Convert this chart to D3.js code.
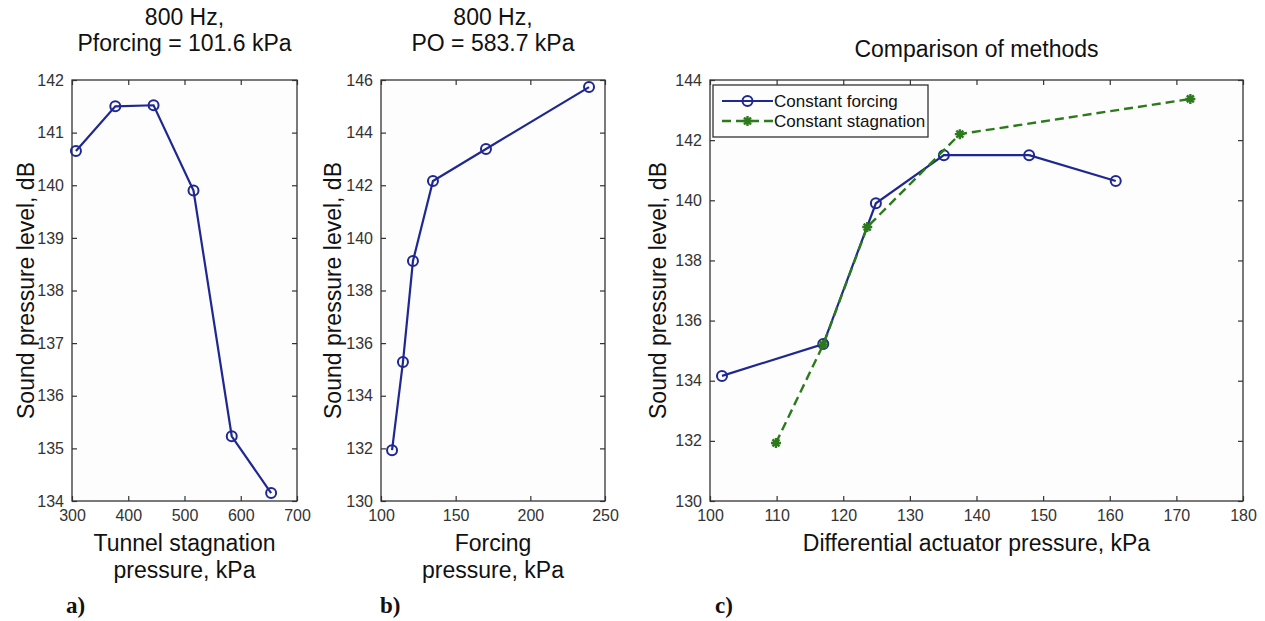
<!DOCTYPE html>
<html>
<head>
<meta charset="utf-8">
<script src="https://cdn.jsdelivr.net/npm/d3@7"></script>
<style>
  body { margin: 0; background: #fff; }
  svg { font-family: "Liberation Sans", Arial, sans-serif; }
  .tick text { font-size: 16px; fill: #333; }
  .domain { display: none; }
  .tick line { stroke: #333; stroke-width: 1.2; }
</style>
</head>
<body>
<svg id="chart" width="1265" height="621"></svg>
<script>
// panel a: constant forcing pressure
const stagPressure = [307, 377, 445, 516, 584, 654];
const splA = [140.65, 141.5, 141.52, 139.9, 135.23, 134.15];

// panel b: constant stagnation pressure
const forcingPressure = [107.4, 114.7, 121.4, 134.8, 170.3, 239.3];
const splB = [131.93, 135.28, 139.12, 142.16, 143.38, 145.73];

// panel c: comparison
const diffForcing = [101.8, 117.0, 124.9, 135.1, 147.9, 160.9];
const splForcing = [134.16, 135.22, 139.9, 141.5, 141.5, 140.64];
const diffStag = [109.9, 117.0, 123.6, 137.5, 172.1];
const splStag = [131.93, 135.2, 139.11, 142.2, 143.37];

const ticksA = { x: [300, 400, 500, 600, 700], y: [134, 135, 136, 137, 138, 139, 140, 141, 142] };
const ticksB = { x: [100, 150, 200, 250], y: [130, 132, 134, 136, 138, 140, 142, 144, 146] };
const ticksC = { x: [100, 110, 120, 130, 140, 150, 160, 170, 180], y: [130, 132, 134, 136, 138, 140, 142, 144] };

const blue = "#1f2891";
const green = "#2c7a1c";

const svg = d3.select("#chart");

function panel(opt) {
  const x = d3.scaleLinear().domain(opt.xd).range([opt.left, opt.right]);
  const y = d3.scaleLinear().domain(opt.yd).range([opt.bottom, opt.top]);
  const g = svg.append("g");

  g.append("rect")
    .attr("x", opt.left).attr("y", opt.top)
    .attr("width", opt.right - opt.left).attr("height", opt.bottom - opt.top)
    .attr("fill", "#fdfdfd").attr("stroke", "#333").attr("stroke-width", 1.3);

  g.append("g").attr("transform", `translate(0,${opt.bottom})`)
    .call(d3.axisBottom(x).tickValues(opt.ticks.x).tickSize(-5).tickPadding(9).tickFormat(d3.format("d")));
  g.append("g").attr("transform", `translate(0,${opt.top})`)
    .call(d3.axisTop(x).tickValues(opt.ticks.x).tickSize(-5).tickFormat(""));
  g.append("g").attr("transform", `translate(${opt.left},0)`)
    .call(d3.axisLeft(y).tickValues(opt.ticks.y).tickSize(-5).tickPadding(8).tickFormat(d3.format("d")));
  g.append("g").attr("transform", `translate(${opt.right},0)`)
    .call(d3.axisRight(y).tickValues(opt.ticks.y).tickSize(-5).tickFormat(""));

  const cx = (opt.left + opt.right) / 2;
  opt.title.forEach((t, i) => {
    g.append("text").attr("x", cx).attr("y", opt.titleY + i * 26)
      .attr("text-anchor", "middle").attr("font-size", 23).attr("fill", "#111").text(t);
  });
  opt.xlabel.forEach((t, i) => {
    g.append("text").attr("x", cx).attr("y", 551 + i * 27)
      .attr("text-anchor", "middle").attr("font-size", 23).attr("fill", "#111").text(t);
  });
  g.append("text")
    .attr("transform", `translate(${opt.ylabelX},${(opt.top + opt.bottom) / 2}) rotate(-90)`)
    .attr("text-anchor", "middle").attr("dy", "0.35em")
    .attr("font-size", 23).attr("fill", "#111").text("Sound pressure level, dB");

  g.append("text").attr("x", opt.tagX).attr("y", 613)
    .attr("font-family", "Liberation Serif, Times New Roman, serif")
    .attr("font-weight", "bold").attr("font-size", 23).attr("fill", "#111").text(opt.tag);

  return { g, x, y };
}

function circleSeries(p, xs, ys) {
  const pts = xs.map((d, i) => [d, ys[i]]);
  p.g.append("path").datum(pts)
    .attr("fill", "none").attr("stroke", blue).attr("stroke-width", 2.2)
    .attr("d", d3.line().x(d => p.x(d[0])).y(d => p.y(d[1])));
  p.g.selectAll(null).data(pts).enter().append("circle")
    .attr("cx", d => p.x(d[0])).attr("cy", d => p.y(d[1])).attr("r", 5)
    .attr("fill", "none").attr("stroke", blue).attr("stroke-width", 2);
}

function starMark(sel, cx, cy) {
  const s = 5;
  sel.append("path")
    .attr("d", `M${cx - s},${cy}H${cx + s}M${cx},${cy - s}V${cy + s}` +
      `M${cx - s * 0.7},${cy - s * 0.7}L${cx + s * 0.7},${cy + s * 0.7}` +
      `M${cx - s * 0.7},${cy + s * 0.7}L${cx + s * 0.7},${cy - s * 0.7}`)
    .attr("stroke", green).attr("stroke-width", 2.4).attr("fill", "none");
}

const pa = panel({
  left: 72, right: 297, top: 80, bottom: 501, xd: [300, 700], yd: [134, 142],
  ticks: ticksA, title: ["800 Hz,", "Pforcing = 101.6 kPa"], titleY: 25,
  xlabel: ["Tunnel stagnation", "pressure, kPa"], ylabelX: 26, tag: "a)", tagX: 66
});
circleSeries(pa, stagPressure, splA);

const pb = panel({
  left: 381, right: 605, top: 80, bottom: 501, xd: [100, 250], yd: [130, 146],
  ticks: ticksB, title: ["800 Hz,", "PO = 583.7 kPa"], titleY: 25,
  xlabel: ["Forcing", "pressure, kPa"], ylabelX: 333, tag: "b)", tagX: 380
});
circleSeries(pb, forcingPressure, splB);

const pc = panel({
  left: 710, right: 1243, top: 80, bottom: 501, xd: [100, 180], yd: [130, 144],
  ticks: ticksC, title: ["Comparison of methods"], titleY: 57,
  xlabel: ["Differential actuator pressure, kPa"], ylabelX: 658, tag: "c)", tagX: 715
});
circleSeries(pc, diffForcing, splForcing);

const stagPts = diffStag.map((d, i) => [d, splStag[i]]);
pc.g.append("path").datum(stagPts)
  .attr("fill", "none").attr("stroke", green).attr("stroke-width", 2.4)
  .attr("stroke-dasharray", "9,5")
  .attr("d", d3.line().x(d => pc.x(d[0])).y(d => pc.y(d[1])));
stagPts.forEach(d => starMark(pc.g, pc.x(d[0]), pc.y(d[1])));

// legend
const lg = pc.g.append("g").attr("transform", "translate(713,85)");
lg.append("rect").attr("width", 215).attr("height", 52)
  .attr("fill", "#fdfdfd").attr("stroke", "#333").attr("stroke-width", 1.3);
lg.append("line").attr("x1", 9).attr("x2", 60).attr("y1", 16).attr("y2", 16)
  .attr("stroke", blue).attr("stroke-width", 2.2);
lg.append("circle").attr("cx", 34.5).attr("cy", 16).attr("r", 5)
  .attr("fill", "none").attr("stroke", blue).attr("stroke-width", 2);
lg.append("line").attr("x1", 9).attr("x2", 60).attr("y1", 36).attr("y2", 36)
  .attr("stroke", green).attr("stroke-width", 2.4).attr("stroke-dasharray", "9,5");
starMark(lg, 34.5, 36);
lg.append("text").attr("x", 61).attr("y", 16).attr("dy", "0.35em")
  .attr("font-size", 17).attr("fill", "#111").text("Constant forcing");
lg.append("text").attr("x", 61).attr("y", 36).attr("dy", "0.35em")
  .attr("font-size", 17).attr("fill", "#111").text("Constant stagnation");
</script>
</body>
</html>
